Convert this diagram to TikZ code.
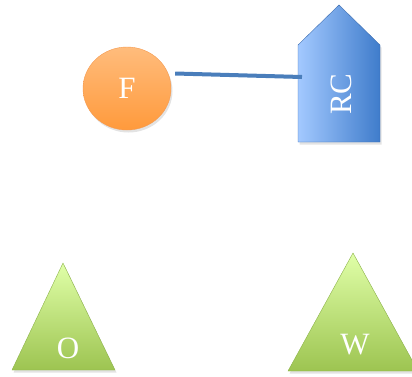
\documentclass[tikz,border=0pt]{standalone}
\usepackage{fontspec}
\setmainfont{Liberation Serif}
\usetikzlibrary{shapes.geometric,shadows}

\definecolor{fOrange}{HTML}{FF9A3C}
\definecolor{fOrangeLight}{HTML}{FFBC7C}
\definecolor{fOrangeLine}{HTML}{F59A50}
\definecolor{rcBlue}{HTML}{3F7CCB}
\definecolor{rcBlueLight}{HTML}{A3C9FF}
\definecolor{rcLine}{HTML}{3C6DB0}
\definecolor{linkBlue}{HTML}{4A7EBB}
\definecolor{triGreen}{HTML}{9DC451}
\definecolor{triGreenLight}{HTML}{E0FFA8}
\definecolor{triLine}{HTML}{8DB44A}

\tikzset{
	softshadow/.style={drop shadow={opacity=.22,shadow xshift=1.5pt,shadow yshift=-2.5pt}},
	fnode/.style={ellipse,minimum width=88pt,minimum height=83pt,draw=fOrangeLine,
		top color=fOrangeLight,bottom color=fOrange,softshadow},
	rcbox/.style={draw=rcLine,left color=rcBlueLight,right color=rcBlue,softshadow},
	tribox/.style={draw=triLine,top color=triGreenLight,bottom color=triGreen,softshadow},
	lbl/.style={text=white,font=\fontsize{31}{34}\selectfont,inner sep=0pt},
	link/.style={draw=linkBlue,line width=4pt}
}

\begin{document}
\begin{tikzpicture}[x=1pt,y=-1pt]
	\useasboundingbox (0,0) rectangle (412,376);

	\node[fnode,lbl] (F) at (127,88.5) {};
	\node[lbl] (F-txt) at (F.center) {F};

	\path[rcbox] (298,45) -- (339,5) -- (380,45) -- (380,142) -- (298,142) -- cycle;
	\node[lbl,rotate=90] (RC) at (341,94) {RC};
	\coordinate (RC-in) at (302,77);

	\path[tribox] (63,263) -- (115,370) -- (12,370) -- cycle;
	\node[lbl] (O) at (68,348) {O};

	\path[tribox] (353,253) -- (418,371) -- (288,371) -- cycle;
	\node[lbl] (W) at (355,345) {W};

	\draw[link] ([shift={(4pt,15pt)}]F.east) -- (RC-in);

\end{tikzpicture}
\end{document}
